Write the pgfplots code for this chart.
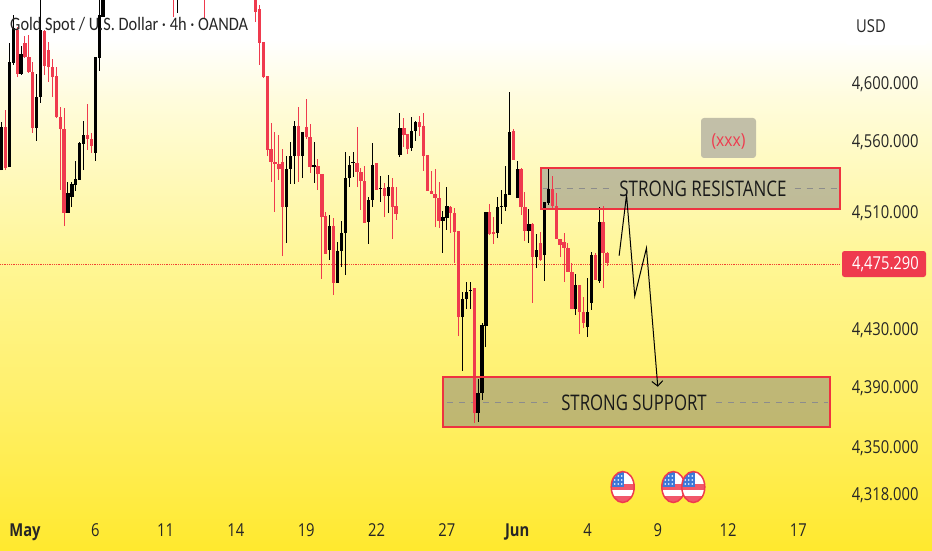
\documentclass[border=0pt]{standalone}
\usepackage{fontspec}
\setmainfont{Carlito}
\newfontfamily\lab{Open Sans}
\usepackage{pgfplots}
\usepackage{pgfplotstable}
\pgfplotsset{compat=1.18}
\usetikzlibrary{arrows.meta}
\definecolor{gA}{HTML}{FFE92E}
\definecolor{gB}{HTML}{FFF06A}
\definecolor{gC}{HTML}{FFF694}
\definecolor{gD}{HTML}{FFFCDC}
\definecolor{cred}{HTML}{EF3A4E}
\definecolor{zred}{HTML}{EE3340}
\definecolor{fblue}{HTML}{3C78D8}
\definecolor{boxtan}{HTML}{C2BFA8}
\newcommand\yl[1]{\scalebox{.83}[1]{\lab\fontsize{17.8}{18}\selectfont #1}}
\pgfdeclareverticalshading{chartbg}{100bp}{color(0bp)=(gA);color(25bp)=(gA);color(38.6bp)=(gB);color(51bp)=(gC);color(65.9bp)=(gD);color(71.4bp)=(white);color(100bp)=(white)}
\pgfplotstableread{
i l b t h
-6 4541.3 4541.3 4571.0 4574.5
-4 4543.4 4543.4 4615.9 4629.0
-3 4613.8 4615.2 4639.3 4648.3
-1 4606.9 4607.6 4621.4 4626.9
3 4561.4 4570.3 4591.7 4607.6
4 4587.6 4591.7 4638.0 4662.1
11 4511.7 4511.7 4525.5 4533.1
12 4515.8 4522.7 4531.7 4533.1
13 4526.9 4531.0 4535.1 4547.6
14 4534.5 4534.5 4560.0 4560.7
15 4541.3 4559.3 4565.5 4575.2
18 4547.6 4553.1 4619.3 4619.3
19 4609.7 4618.6 4648.3 4658.7
20 4647.0 4647.0 4665.5 4672.5
39 4649.7 4662.0 4665.0 4672.0
67 4491.0 4515.8 4542.0 4551.0
68 4531.7 4542.0 4551.0 4560.7
69 4531.7 4551.0 4571.7 4575.2
71 4535.8 4551.0 4567.6 4567.6
74 4532.4 4543.4 4544.8 4560.7
78 4479.3 4486.2 4502.7 4510.3
80 4463.4 4463.4 4485.5 4491.7
81 4474.4 4485.5 4497.9 4506.2
82 4468.9 4497.9 4535.8 4553.8
83 4529.6 4535.8 4544.8 4551.0
84 4536.5 4546.2 4546.9 4553.8
88 4490.3 4505.5 4520.7 4522.7
89 4515.8 4520.7 4544.8 4560.0
91 4519.3 4528.2 4528.9 4537.2
93 4511.7 4523.4 4529.6 4537.9
96 4550.3 4551.7 4570.3 4580.7
99 4554.5 4556.5 4568.3 4577.9
100 4561.4 4568.3 4574.5 4575.2
107 4484.1 4506.2 4508.9 4513.1
108 4500.0 4508.2 4516.5 4529.6
112 4402.7 4439.9 4452.3 4457.2
113 4445.4 4452.3 4457.2 4464.1
114 4445.4 4457.9 4458.6 4464.1
116 4367.5 4373.7 4387.5 4397.1
117 4382.7 4387.5 4434.4 4435.8
118 4419.2 4433.7 4512.4 4512.4
121 4494.4 4497.9 4515.8 4522.7
122 4504.1 4515.8 4516.5 4527.6
123 4513.1 4515.8 4524.8 4544.1
124 4524.1 4524.1 4567.6 4595.2
126 4522.0 4522.0 4542.0 4547.6
129 4491.0 4499.3 4504.1 4514.4
131 4473.7 4481.3 4486.2 4497.2
133 4464.8 4482.7 4519.3 4519.3
134 4517.2 4518.6 4528.2 4542.7
141 4441.3 4445.4 4462.0 4469.6
144 4426.1 4433.0 4443.4 4466.8
145 4444.8 4449.6 4482.7 4484.8
147 4463.4 4464.8 4505.5 4515.8
}\blackdata
\pgfplotstableread{
i l b t h
-5 4541.3 4542.7 4571.0 4582.8
-2 4605.5 4607.6 4638.0 4640.0
0 4618.6 4619.3 4629.0 4633.8
1 4608.3 4609.0 4619.3 4634.5
2 4566.9 4570.3 4609.0 4615.9
5 4606.9 4613.1 4637.3 4638.0
6 4602.1 4612.4 4624.2 4629.7
7 4591.7 4605.5 4612.4 4617.9
8 4577.2 4577.9 4606.2 4612.4
9 4527.6 4569.6 4577.9 4584.8
10 4502.7 4511.7 4569.6 4584.1
16 4555.2 4562.7 4565.5 4586.9
17 4553.1 4557.9 4562.7 4566.9
38 4647.0 4662.0 4665.0 4672.0
46 4646.3 4662.0 4665.0 4672.0
59 4643.5 4650.4 4672.5 4680.0
60 4613.8 4629.0 4652.4 4655.2
61 4604.8 4605.5 4629.7 4629.7
62 4551.0 4555.2 4606.2 4606.2
63 4533.1 4546.9 4555.8 4573.8
64 4512.4 4545.5 4546.9 4567.6
65 4534.5 4542.0 4545.5 4565.5
66 4482.0 4515.8 4546.9 4555.8
70 4533.1 4551.0 4571.7 4584.8
72 4562.7 4564.1 4571.0 4590.3
73 4539.3 4543.4 4564.1 4573.1
75 4527.6 4538.6 4544.1 4548.9
76 4466.2 4508.9 4538.6 4538.6
77 4483.4 4483.4 4509.6 4512.4
79 4455.1 4463.4 4502.7 4508.2
85 4529.6 4540.0 4546.2 4571.0
86 4513.8 4533.8 4540.0 4542.7
87 4504.8 4504.8 4533.8 4544.1
90 4527.6 4527.6 4546.2 4546.2
92 4508.9 4523.4 4528.9 4532.4
94 4493.7 4515.8 4529.6 4535.8
95 4506.9 4511.0 4516.5 4529.6
97 4557.2 4565.5 4570.3 4577.2
98 4552.4 4555.8 4566.2 4566.2
101 4564.8 4571.0 4574.5 4578.6
102 4540.7 4551.0 4571.7 4580.7
103 4526.9 4526.9 4551.7 4551.7
104 4524.8 4524.8 4526.9 4540.7
105 4502.0 4522.0 4524.8 4542.0
106 4501.3 4506.2 4522.0 4533.1
109 4497.9 4511.7 4515.8 4516.5
110 4477.2 4498.6 4511.7 4515.1
111 4426.8 4439.9 4499.3 4499.3
115 4366.8 4373.7 4460.0 4460.0
119 4496.5 4497.2 4512.4 4517.9
120 4490.3 4497.2 4498.6 4508.9
125 4548.3 4548.3 4568.3 4569.6
127 4510.3 4515.8 4542.0 4542.7
128 4492.4 4499.3 4515.8 4526.2
130 4449.6 4481.3 4504.1 4504.8
132 4478.6 4479.3 4491.0 4498.6
135 4515.1 4516.5 4528.2 4537.2
136 4493.7 4493.7 4516.5 4525.5
137 4481.3 4489.6 4493.7 4493.7
138 4464.1 4487.6 4491.7 4497.9
139 4471.0 4471.0 4487.6 4491.0
140 4445.4 4445.4 4471.0 4477.2
142 4428.2 4443.4 4462.0 4462.0
143 4432.3 4435.8 4443.4 4453.7
146 4465.5 4465.5 4482.7 4484.1
148 4460.0 4484.1 4505.5 4516.5
149 4475.1 4477.2 4484.1 4484.8
}\reddata
\newcommand\flag[2]{%
  \begin{scope}[shift={(#1pt,550pt-#2pt)}]
    \begin{scope}
      \clip (0,0) ellipse (11.5pt and 15.5pt);
      \fill[white] (-12pt,-16pt) rectangle (12pt,16pt);
      \fill[cred!85] (-12pt,-3pt) rectangle (12pt,3pt);
      \fill[cred!85] (-12pt,-16pt) rectangle (12pt,-9pt);
      \fill[fblue] (-12pt,0pt) rectangle (1.5pt,16pt);
      \foreach \dx in {-8,-4.5,-1} \foreach \dy in {3,7,11}
        \fill[white] (\dx pt,\dy pt) circle (0.9pt);
    \end{scope}
    \draw[cred,line width=1.5pt] (0,0) ellipse (11.5pt and 15.5pt);
  \end{scope}}
\begin{document}
\begin{tikzpicture}[x=1pt,y=1pt]
\useasboundingbox (0,0) rectangle (932pt,550pt);
\shade[shading=chartbg] (0,0) rectangle (932pt,550pt);
\begin{axis}[
  at={(0pt,0pt)},anchor=south west,
  scale only axis,width=932pt,height=550pt,
  xmin=-6.4,xmax=232.2,ymin=4279.15,ymax=4658.65,
  axis line style={draw=none},
  major tick length=0pt,
  xtick={0,18,36,54,72,90,108,126,144,162,180,198},
  xticklabels={\yl{\bfseries May},\yl{6},\yl{11},\yl{14},\yl{19},\yl{22},\yl{27},\yl{\bfseries Jun},\yl{4},\yl{9},\yl{12},\yl{17}},
  ytick={4601,4561.4,4512.4,4431.6,4391.6,4350.2,4317.8},
  yticklabels={{\yl{4,600.000}},{\yl{4,560.000}},{\yl{4,510.000}},{\yl{4,430.000}},{\yl{4,390.000}},{\yl{4,350.000}},{\yl{4,318.000}}},
  yticklabel pos=right,
  x tick label style={text=black!85,anchor=base,yshift=14pt},
  y tick label style={text=black!85,anchor=east,xshift=-10pt,yshift=-1pt},
]
% current price line
\addplot[forget plot,densely dotted,line width=0.8pt,color=zred!80!orange] coordinates {(-6.4,4476.5) (208.7,4476.5)};
% zones
\addplot[forget plot,draw=none,fill=black!50,fill opacity=0.5] coordinates {(132.1,4542.7) (208.7,4542.7) (208.7,4514.4) (132.1,4514.4)} -- cycle;
\addplot[forget plot,draw=none,fill=black!50,fill opacity=0.5] coordinates {(107,4398.5) (206.1,4398.5) (206.1,4364) (107,4364)} -- cycle;
\addplot[forget plot,dashed,color=black!45,line width=0.7pt,dash pattern=on 6pt off 6pt] coordinates {(132.5,4528.9) (150,4528.9)};
\addplot[forget plot,dashed,color=black!45,line width=0.7pt,dash pattern=on 6pt off 6pt] coordinates {(197,4528.9) (208,4528.9)};
\addplot[forget plot,dashed,color=black!45,line width=0.7pt,dash pattern=on 6pt off 6pt] coordinates {(108,4381.3) (134,4381.3)};
\addplot[forget plot,dashed,color=black!45,line width=0.7pt,dash pattern=on 6pt off 6pt] coordinates {(177,4381.3) (205.5,4381.3)};
% candles: wicks then bodies
\addplot[forget plot,draw=none,mark=none,error bars/.cd,y dir=plus,y explicit,error mark=none,error bar style={line width=1pt,color=black}]
  table[x=i,y=l,y error plus expr=\thisrow{h}-\thisrow{l}] {\blackdata};
\addplot[forget plot,draw=none,mark=none,error bars/.cd,y dir=plus,y explicit,error mark=none,error bar style={line width=1pt,color=cred}]
  table[x=i,y=l,y error plus expr=\thisrow{h}-\thisrow{l}] {\reddata};
\addplot[forget plot,draw=none,mark=none,error bars/.cd,y dir=plus,y explicit,error mark=none,error bar style={line width=3.3pt,color=cred}]
  table[x=i,y=b,y error plus expr=\thisrow{t}-\thisrow{b}] {\reddata};
\addplot[forget plot,draw=none,mark=none,error bars/.cd,y dir=plus,y explicit,error mark=none,error bar style={line width=3.3pt,color=black}]
  table[x=i,y=b,y error plus expr=\thisrow{t}-\thisrow{b}] {\blackdata};
% zone borders
\addplot[forget plot,draw=zred,line width=2.4pt] coordinates {(132.1,4542.7) (208.7,4542.7) (208.7,4514.4) (132.1,4514.4)} -- cycle;
\addplot[forget plot,draw=zred,line width=2.4pt] coordinates {(107,4398.5) (206.1,4398.5) (206.1,4364) (107,4364)} -- cycle;
% projected path
\addplot[forget plot,black,line width=1pt,-{Straight Barb[length=5pt,width=11pt,line width=1pt]}] coordinates {(152.1,4482.2) (154,4524.1) (156.1,4454.4) (159.1,4487.5) (162,4391.8)};
\end{axis}
\node[anchor=base west,inner sep=0pt,text=black!85] at (10pt,550pt-31pt) {\scalebox{.86}[1]{\fontsize{19}{20}\selectfont Gold Spot / U.S. Dollar · 4h · OANDA}};
\node[inner sep=0pt,anchor=base,text=black!90] at (703pt,550pt-197pt) {\scalebox{.79}[1]{\lab\fontsize{21.5}{22}\selectfont STRONG RESISTANCE}};
\node[inner sep=0pt,anchor=base,text=black!90] at (634pt,550pt-410pt) {\scalebox{.78}[1]{\lab\fontsize{21.5}{22}\selectfont STRONG SUPPORT}};
\fill[boxtan,rounded corners=3pt] (701pt,550pt-118pt) rectangle (756pt,550pt-158pt);
\node[inner sep=0pt,text=cred] at (728.5pt,550pt-141pt) {\scalebox{.87}[1]{\lab\fontsize{18}{18}\selectfont (xxx)}};
\fill[cred,rounded corners=2.5pt] (842pt,550pt-251pt) rectangle (926pt,550pt-277pt);
\node[inner sep=0pt,anchor=east,text=white] at (919pt,550pt-264pt) {\yl{4,475.290}};
\fill[white,rounded corners=2pt] (846pt,550pt-5pt) rectangle (927pt,550pt-45pt);
\node[inner sep=0pt,anchor=west,text=black!85] at (856pt,550pt-26pt) {\yl{USD}};
\flag{622.7}{487}
\flag{673.3}{487}
\flag{693.3}{487}
\end{tikzpicture}
\end{document}
